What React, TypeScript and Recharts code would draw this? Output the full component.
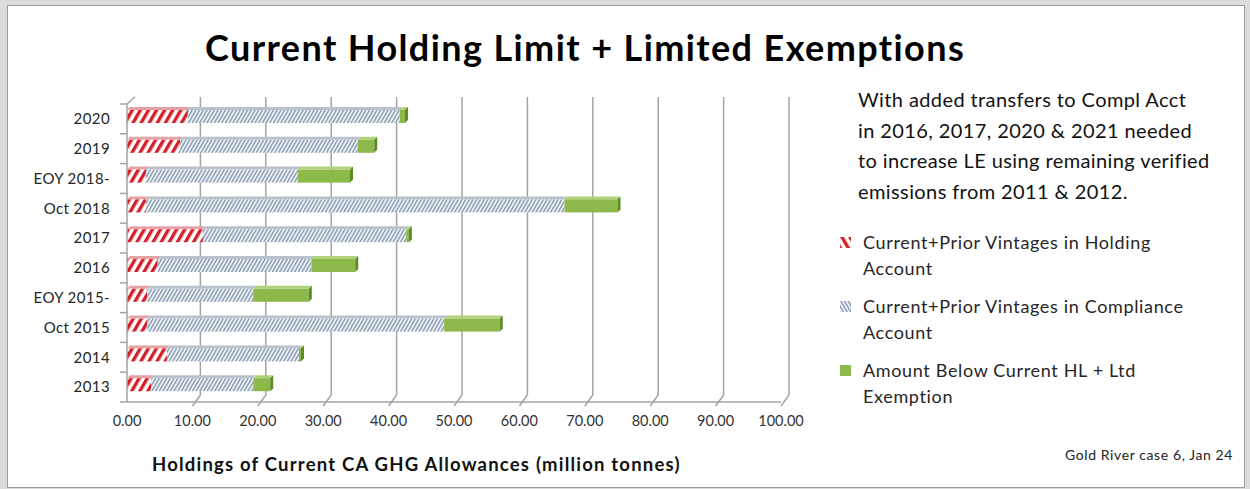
import { BarChart, Bar, XAxis, YAxis, CartesianGrid } from 'recharts';

// Categories run top to bottom in the horizontal bar layout
const categories = ['2020', '2019', 'EOY 2018-', 'Oct 2018', '2017', '2016', 'EOY 2015-', 'Oct 2015', '2014', '2013'];

// million tonnes
const holdingAccount = [9.3, 8.1, 2.9, 2.9, 11.6, 4.7, 3.1, 3.1, 6.1, 3.7];
const complianceAccount = [32.4, 27.2, 23.2, 64.0, 31.1, 23.5, 16.2, 45.4, 20.2, 15.6];
const belowLimit = [0.8, 2.5, 8.0, 8.1, 0.4, 6.7, 8.5, 8.5, 0.3, 2.6];

const xTicks = [0, 10, 20, 30, 40, 50, 60, 70, 80, 90, 100];

const seriesNames = [
  'Current+Prior Vintages in Holding Account',
  'Current+Prior Vintages in Compliance Account',
  'Amount Below Current HL + Ltd Exemption',
];

const infoLines = [
  'With added transfers to Compl Acct',
  'in 2016, 2017, 2020 & 2021 needed',
  'to increase LE using remaining verified',
  'emissions from 2011 & 2012.',
];

const chartData = categories.map((name, i) => ({
  name,
  holding: holdingAccount[i],
  compliance: complianceAccount[i],
  below: belowLimit[i],
}));

const FONT = 'Lato, "Noto Sans", sans-serif';
const RED = '#d3202a';
const SLATE = '#7f93ab';
const GREEN = '#8db84a';
const GRID = '#a3a3a3';

// depth of the 3D back wall
const DX = 8;
const DY = 7;

const CHART_H = 489;
const MARGIN = { top: 104, right: 49, bottom: 57, left: 17 };
const X_AXIS_H = 30;
const BAND = (CHART_H - MARGIN.top - MARGIN.bottom - X_AXIS_H) / categories.length;

const PatternDefs = ({ suffix, angle }: { suffix: string; angle: number }) => (
  <defs>
    <pattern id={`redHatch${suffix}`} width="7" height="7" patternUnits="userSpaceOnUse" patternTransform={`rotate(${angle})`}>
      <rect width="7" height="7" fill="#ffffff" />
      <rect width="3.4" height="7" fill={RED} />
    </pattern>
    <pattern id={`slateHatch${suffix}`} width="3.2" height="3.2" patternUnits="userSpaceOnUse" patternTransform={`rotate(${angle})`}>
      <rect width="3.2" height="3.2" fill="#eef2f7" />
      <rect width="1.3" height="3.2" fill={SLATE} />
    </pattern>
  </defs>
);

// bar segment with a thin top face, and a side face on the outer end
const Bar3D = (props: any) => {
  const { x, y, width, height, fill, top, side } = props;
  if (!width || width <= 0) return null;
  const d = 3;
  const yy = y - 2;
  return (
    <g>
      <polygon
        points={`${x},${yy} ${x + d},${yy - d} ${x + width + d},${yy - d} ${x + width},${yy}`}
        fill={top}
      />
      <rect x={x} y={yy} width={width} height={height} fill={fill} />
      {side && (
        <polygon
          points={`${x + width},${yy} ${x + width + d},${yy - d} ${x + width + d},${yy + height - d} ${x + width},${yy + height}`}
          fill={side}
        />
      )}
    </g>
  );
};

const GridLine = (props: any) => {
  const { x1, y1, y2, index } = props;
  if (index === 0) {
    // top edge of the side wall
    return <line key={`g${index}`} x1={x1} y1={y1} x2={x1 + DX} y2={y1 - DY} stroke={GRID} strokeWidth={1.5} />;
  }
  return (
    <g key={`g${index}`}>
      <line x1={x1 + DX} y1={y1 - DY} x2={x1 + DX} y2={y2 - DY} stroke={GRID} strokeWidth={1.5} />
      <line x1={x1 + DX} y1={y2 - DY} x2={x1} y2={y2 + 4} stroke={GRID} strokeWidth={1.5} />
    </g>
  );
};

const CategoryTick = (props: any) => {
  const { x, y, payload, index } = props;
  return (
    <g>
      {index === 0 && <line x1={x - 7} y1={y - BAND / 2} x2={x} y2={y - BAND / 2} stroke={GRID} strokeWidth={1.5} />}
      <line x1={x - 7} y1={y + BAND / 2} x2={x} y2={y + BAND / 2} stroke={GRID} strokeWidth={1.5} />
      <text
        x={x - 17}
        y={y}
        dy="0.35em"
        textAnchor="end"
        fontSize={15}
        fill="#262626"
        fontFamily={FONT}
        style={{ letterSpacing: '0.4px' }}
      >
        {payload.value}
      </text>
    </g>
  );
};

const LegendIcon = ({ fill }: { fill: string }) => (
  <svg width="11" height="11" style={{ position: 'absolute', left: -23, top: 7 }}>
    <PatternDefs suffix="Icon" angle={-30} />
    <rect width="11" height="11" fill={fill} />
  </svg>
);

export default function App() {
  const legendFills = ['url(#redHatchIcon)', 'url(#slateHatchIcon)', GREEN];
  return (
    <div style={{ position: 'absolute', left: 0, top: 0, width: 1250, height: 489, background: '#dcdcdc', fontFamily: FONT }}>
      <div
        style={{
          position: 'absolute',
          left: 7,
          top: 5,
          width: 1236,
          height: 481,
          background: '#ffffff',
          border: '1px solid #9c9c9c',
        }}
      />
      <BarChart
        width={830}
        height={CHART_H}
        data={chartData}
        layout="vertical"
        margin={MARGIN}
        barSize={13}
        style={{ position: 'absolute', left: 0, top: 0 }}
      >
        <PatternDefs suffix="" angle={30} />
        <CartesianGrid horizontal={false} vertical={GridLine} />
        <XAxis
          type="number"
          domain={[0, 100]}
          ticks={xTicks}
          height={X_AXIS_H}
          tickFormatter={(v: number) => v.toFixed(2)}
          axisLine={{ stroke: GRID, strokeWidth: 1.5 }}
          tickLine={false}
          tickSize={0}
          tickMargin={14}
          tick={{ fontSize: 14.5, fill: '#333333', fontFamily: FONT }}
        />
        <YAxis
          type="category"
          dataKey="name"
          width={110}
          axisLine={{ stroke: GRID, strokeWidth: 1.5 }}
          tickLine={false}
          tickSize={0}
          tickMargin={0}
          tick={CategoryTick}
          interval={0}
        />
        <Bar
          dataKey="holding"
          stackId="a"
          fill="url(#redHatch)"
          isAnimationActive={false}
          shape={(p: any) => <Bar3D {...p} top="#e7a0a3" />}
        />
        <Bar
          dataKey="compliance"
          stackId="a"
          fill="url(#slateHatch)"
          isAnimationActive={false}
          shape={(p: any) => <Bar3D {...p} top="#b9c1cb" />}
        />
        <Bar
          dataKey="below"
          stackId="a"
          fill={GREEN}
          isAnimationActive={false}
          shape={(p: any) => <Bar3D {...p} top="#b0d27a" side="#5e8a26" />}
        />
      </BarChart>

      <div
        style={{
          position: 'absolute',
          left: 205,
          top: 25,
          fontSize: 36,
          fontWeight: 700,
          letterSpacing: '1.4px',
          color: '#000',
          whiteSpace: 'nowrap',
        }}
      >
        Current Holding Limit + Limited Exemptions
      </div>

      <div
        style={{
          position: 'absolute',
          left: 858,
          top: 84,
          fontSize: 20,
          letterSpacing: '0.4px',
          lineHeight: '30.5px',
          color: '#111',
        }}
      >
        {infoLines.map((line) => (
          <div key={line} style={{ whiteSpace: 'nowrap' }}>
            {line}
          </div>
        ))}
      </div>

      {seriesNames.map((name, i) => {
        const words = name.split(' ');
        const last = words.pop();
        return (
          <div
            key={name}
            style={{
              position: 'absolute',
              left: 863,
              top: 230 + i * 64,
              fontSize: 18,
              letterSpacing: '0.65px',
              lineHeight: '25.5px',
              color: '#262626',
              whiteSpace: 'nowrap',
            }}
          >
            <LegendIcon fill={legendFills[i]} />
            <div>{words.join(' ')}</div>
            <div>{last}</div>
          </div>
        );
      })}

      <div
        style={{
          position: 'absolute',
          left: 152,
          top: 453,
          fontSize: 18.5,
          fontWeight: 700,
          letterSpacing: '1.2px',
          color: '#111',
          whiteSpace: 'nowrap',
        }}
      >
        Holdings of Current CA GHG Allowances (million tonnes)
      </div>

      <div
        style={{
          position: 'absolute',
          left: 1065,
          top: 446,
          fontSize: 14,
          letterSpacing: '0.6px',
          color: '#222',
          whiteSpace: 'nowrap',
        }}
      >
        Gold River case 6, Jan 24
      </div>
    </div>
  );
}
